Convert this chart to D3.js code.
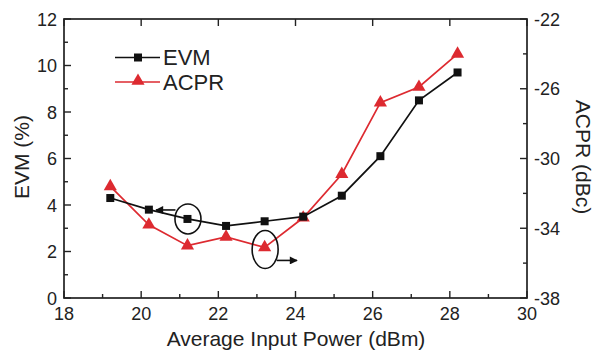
<!DOCTYPE html>
<html><head><meta charset="utf-8">
<script src="https://cdn.jsdelivr.net/npm/d3@7"></script>
<style>body{margin:0;background:#fff}svg{display:block}text{font-family:"Liberation Sans",Arial,sans-serif;fill:#222}</style>
</head><body>
<svg id="c" width="595" height="352"></svg>
<script>
const power = [19.2, 20.2, 21.2, 22.2, 23.2, 24.2, 25.2, 26.2, 27.2, 28.2];
const evm = [4.3, 3.8, 3.4, 3.1, 3.3, 3.5, 4.4, 6.1, 8.5, 9.7];
const acpr = [-31.6, -33.8, -35.0, -34.5, -35.1, -33.4, -30.9, -26.8, -25.9, -24.0];
const xTicks = [18, 20, 22, 24, 26, 28, 30];
const yLeftTicks = [0, 2, 4, 6, 8, 10, 12];
const yRightTicks = [-38, -34, -30, -26, -22];
const seriesNames = ["EVM", "ACPR"];

const svg = d3.select("#c");
const L = 64, R = 527, T = 19, B = 298;
const x = d3.scaleLinear().domain([18, 30]).range([L, R]);
const yl = d3.scaleLinear().domain([0, 12]).range([B, T]);
const yr = d3.scaleLinear().domain([-38, -22]).range([B, T]);
const red = "#dd2a30";

// ticks
const tk = svg.append("g").attr("stroke", "#222").attr("stroke-width", 1.4);
d3.range(18, 30.01, 1).forEach(v => {
  const len = v % 2 === 0 ? 7 : 4;
  tk.append("line").attr("x1", x(v)).attr("x2", x(v)).attr("y1", B).attr("y2", B - len);
  if (v % 2 === 0) tk.append("line").attr("x1", x(v)).attr("x2", x(v)).attr("y1", T).attr("y2", T + len);
});
d3.range(0, 12.01, 1).forEach(v => {
  const len = v % 2 === 0 ? 7 : 4;
  tk.append("line").attr("x1", L).attr("x2", L + len).attr("y1", yl(v)).attr("y2", yl(v));
});
d3.range(-38, -21.99, 2).forEach(v => {
  const len = (v + 38) % 4 === 0 ? 7 : 4;
  tk.append("line").attr("x1", R).attr("x2", R - len).attr("y1", yr(v)).attr("y2", yr(v));
});
svg.append("rect").attr("x", L).attr("y", T).attr("width", R - L).attr("height", B - T)
  .attr("fill", "none").attr("stroke", "#222").attr("stroke-width", 1.7);

// tick labels
svg.append("g").selectAll("text").data(xTicks).join("text")
  .attr("x", d => x(d)).attr("y", 320).attr("text-anchor", "middle").attr("font-size", 18).text(d => d);
svg.append("g").selectAll("text").data(yLeftTicks).join("text")
  .attr("x", 57).attr("y", d => yl(d) + 6.5).attr("text-anchor", "end").attr("font-size", 18).text(d => d);
svg.append("g").selectAll("text").data(yRightTicks).join("text")
  .attr("x", 534).attr("y", d => yr(d) + 6.5).attr("text-anchor", "start").attr("font-size", 18).text(d => d);

// axis titles
svg.append("text").attr("x", 296).attr("y", 346).attr("text-anchor", "middle").attr("font-size", 21)
  .text("Average Input Power (dBm)");
svg.append("text").attr("transform", `translate(29,157) rotate(-90)`).attr("text-anchor", "middle")
  .attr("font-size", 21).text("EVM (%)");
svg.append("text").attr("transform", `translate(576,157) rotate(90)`).attr("text-anchor", "middle")
  .attr("font-size", 21).text("ACPR (dBc)");

// series
const lineL = d3.line().x((d, i) => x(power[i])).y(d => yl(d));
const lineR = d3.line().x((d, i) => x(power[i])).y(d => yr(d));
svg.append("path").attr("d", lineR(acpr)).attr("fill", "none").attr("stroke", red).attr("stroke-width", 1.7);
svg.append("path").attr("d", lineL(evm)).attr("fill", "none").attr("stroke", "#111").attr("stroke-width", 1.7);
const tri = d3.symbol().type(d3.symbolTriangle).size(75);
svg.append("g").selectAll("path").data(acpr).join("path")
  .attr("d", tri).attr("transform", (d, i) => `translate(${x(power[i])},${yr(d)})`).attr("fill", red);
svg.append("g").selectAll("rect").data(evm).join("rect")
  .attr("x", (d, i) => x(power[i]) - 4).attr("y", d => yl(d) - 4).attr("width", 8).attr("height", 8).attr("fill", "#111");

// legend
const lg = svg.append("g");
lg.append("line").attr("x1", 115).attr("x2", 160).attr("y1", 57.5).attr("y2", 57.5).attr("stroke", "#111").attr("stroke-width", 1.7);
lg.append("rect").attr("x", 134).attr("y", 53.5).attr("width", 8).attr("height", 8).attr("fill", "#111");
lg.append("text").attr("x", 163).attr("y", 65).attr("font-size", 22).text(seriesNames[0]);
lg.append("line").attr("x1", 115).attr("x2", 160).attr("y1", 82).attr("y2", 82).attr("stroke", red).attr("stroke-width", 1.7);
lg.append("path").attr("d", tri).attr("transform", "translate(138,81)").attr("fill", red);
lg.append("text").attr("x", 163).attr("y", 89.5).attr("font-size", 22).text(seriesNames[1]);

// annotations
const defs = svg.append("defs");
defs.append("marker").attr("id", "ah").attr("viewBox", "0 0 10 10").attr("refX", 9).attr("refY", 5)
  .attr("markerWidth", 10).attr("markerHeight", 8).attr("orient", "auto-start-reverse").attr("markerUnits", "userSpaceOnUse")
  .append("path").attr("d", "M0,0 L10,5 L0,10 Z").attr("fill", "#111");
const an = svg.append("g").attr("fill", "none").attr("stroke", "#111").attr("stroke-width", 1.6);
an.append("ellipse").attr("cx", x(21.2) + 0.5).attr("cy", yl(evm[2])).attr("rx", 13).attr("ry", 15);
an.append("line").attr("x1", x(21.2) - 12).attr("y1", yl(evm[2]) - 9).attr("x2", 156).attr("y2", yl(evm[2]) - 9).attr("marker-end", "url(#ah)");
an.append("ellipse").attr("cx", x(23.2) + 0.5).attr("cy", yr(acpr[4]) + 2).attr("rx", 13).attr("ry", 19);
an.append("line").attr("x1", x(23.2) + 12).attr("y1", yr(acpr[4]) + 13).attr("x2", 297).attr("y2", yr(acpr[4]) + 13).attr("marker-end", "url(#ah)");
</script>
</body></html>
